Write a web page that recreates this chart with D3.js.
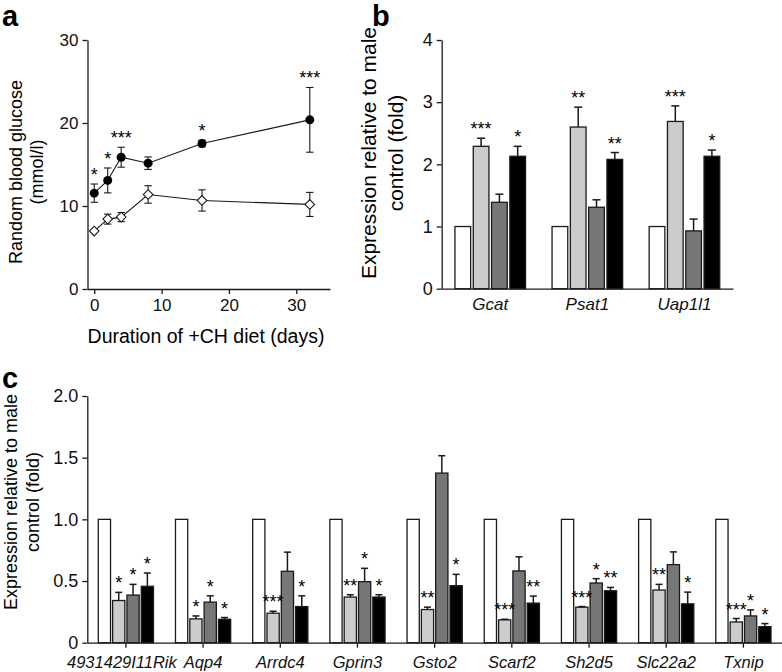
<!DOCTYPE html>
<html><head><meta charset="utf-8">
<script src="https://cdn.jsdelivr.net/npm/d3@7"></script>
<style>
body{margin:0;background:#fff;}
svg{display:block;font-family:"Liberation Sans",Arial,Helvetica,sans-serif;}
</style></head>
<body>
<script>
// ---- Panel a data ----
const days = [0, 2, 4, 8, 16, 32];
const chMean = [11.55, 13.08, 15.88, 15.16, 17.53, 20.38];
const chErr = [1.1, 1.5, 1.2, 0.75, 0.4, 3.9];
const ctrlMean = [6.98, 8.42, 8.66, 11.39, 10.67, 10.19];
const ctrlErr = [0.15, 0.6, 0.55, 1.05, 1.28, 1.45];
const aStars = ["*", "*", "***", "", "*", "***"];
const aYTicks = [0, 10, 20, 30];
const aXTicks = [0, 10, 20, 30];

// ---- Panel b data ----
const bGenes = ["Gcat", "Psat1", "Uap1l1"];
const bWhite = [1, 1, 1];
const bLight = [2.29, 2.6, 2.69];
const bLightErr = [0.13, 0.32, 0.25];
const bDark = [1.39, 1.31, 0.93];
const bDarkErr = [0.13, 0.12, 0.19];
const bBlack = [2.13, 2.08, 2.13];
const bBlackErr = [0.16, 0.11, 0.10];
const bLightStars = ["***", "**", "***"];
const bDarkStars = ["", "", ""];
const bBlackStars = ["*", "**", "*"];
const bYTicks = [0, 1, 2, 3, 4];

// ---- Panel c data ----
const cGenes = ["4931429I11Rik", "Aqp4", "Arrdc4", "Gprin3", "Gsto2", "Scarf2", "Sh2d5", "Slc22a2", "Txnip"];
const cWhite = [1, 1, 1, 1, 1, 1, 1, 1, 1];
const cLight = [0.342, 0.193, 0.239, 0.37, 0.269, 0.185, 0.288, 0.427, 0.168];
const cLightErr = [0.066, 0.024, 0.016, 0.019, 0.019, 0.005, 0.005, 0.046, 0.028];
const cDark = [0.386, 0.329, 0.579, 0.495, 1.375, 0.582, 0.484, 0.633, 0.217];
const cDarkErr = [0.087, 0.051, 0.155, 0.108, 0.141, 0.114, 0.035, 0.103, 0.049];
const cBlack = [0.457, 0.19, 0.293, 0.37, 0.462, 0.321, 0.421, 0.315, 0.13];
const cBlackErr = [0.108, 0.014, 0.087, 0.019, 0.092, 0.057, 0.027, 0.095, 0.025];
const cLightStars = ["*", "*", "***", "**", "**", "***", "***", "**", "***"];
const cDarkStars = ["*", "*", "", "*", "", "", "*", "", "*"];
const cBlackStars = ["*", "*", "*", "*", "*", "**", "**", "*", "*"];
const cYTicks = [0, 0.5, 1.0, 1.5, 2.0];
const cYTickLabels = ["0", "0.5", "1.0", "1.5", "2.0"];

const seriesKeys = ["white", "light", "dark", "black"];
const fills = {white: "#ffffff", light: "#cccccc", dark: "#777777", black: "#000000"};

const W = 782, H = 672;
const svg = d3.select("body").append("svg").attr("width", W).attr("height", H);
const INK = "#1a1a1a";
const STARFONT = "18px";

function styleAxis(g, fs) {
  g.selectAll("path.domain").attr("stroke", INK).attr("stroke-width", 1.3);
  g.selectAll(".tick line").attr("stroke", INK).attr("stroke-width", 1.3);
  g.selectAll(".tick text").attr("fill", "#111").style("font-size", fs).attr("font-family", null);
}

// ================= Panel a =================
(function(){
  const x = d3.scaleLinear().domain([-1, 35]).range([87.5, 330]);
  const y = d3.scaleLinear().domain([0, 30]).range([289, 40]);
  const g = svg.append("g");
  const ya = g.append("g").attr("transform", `translate(${x(-1)},0)`)
    .call(d3.axisLeft(y).tickValues(aYTicks).tickSize(5).tickPadding(4).tickSizeOuter(0));
  styleAxis(ya, "17px");
  const xa = g.append("g").attr("transform", `translate(0,${y(0)})`)
    .call(d3.axisBottom(x).tickValues(aXTicks).tickSize(5).tickPadding(5).tickSizeOuter(0));
  styleAxis(xa, "17px");

  const line = d3.line().x(d => x(d[0])).y(d => y(d[1]));
  const ch = days.map((d, i) => [d, chMean[i], chErr[i], aStars[i]]);
  const ct = days.map((d, i) => [d, ctrlMean[i], ctrlErr[i]]);

  [ct, ch].forEach(data => {
    g.append("path").datum(data).attr("d", line).attr("fill", "none").attr("stroke", INK).attr("stroke-width", 1.1);
    data.forEach(d => {
      const cx = x(d[0]);
      const y1 = y(d[1] + d[2]), y0 = y(d[1] - d[2]);
      g.append("line").attr("x1", cx).attr("x2", cx).attr("y1", y1).attr("y2", y0).attr("stroke", INK).attr("stroke-width", 1.1);
      [y1, y0].forEach(yy => g.append("line").attr("x1", cx - 3.7).attr("x2", cx + 3.7).attr("y1", yy).attr("y2", yy).attr("stroke", INK).attr("stroke-width", 1.1));
    });
  });
  g.selectAll("path.dia").data(ct).enter().append("path")
    .attr("d", d3.symbol().type(d3.symbolSquare).size(46))
    .attr("transform", d => `translate(${x(d[0])},${y(d[1])}) rotate(45)`)
    .attr("fill", "#fff").attr("stroke", INK).attr("stroke-width", 1.1);
  g.selectAll("circle.ch").data(ch).enter().append("circle")
    .attr("cx", d => x(d[0])).attr("cy", d => y(d[1])).attr("r", 4.5).attr("fill", "#000");
  g.selectAll("text.star").data(ch).enter().append("text")
    .attr("x", d => x(d[0])).attr("y", d => y(d[1] + d[2]) - 3)
    .attr("text-anchor", "middle").style("font-size", STARFONT).text(d => d[3]);

  g.append("text").attr("x", 206).attr("y", 343).attr("text-anchor", "middle").style("font-size", "19.5px")
    .text("Duration of +CH diet (days)");
  const t = g.append("text").attr("transform", "translate(22,172) rotate(-90)").attr("text-anchor", "middle").style("font-size", "18px");
  t.append("tspan").attr("x", 0).attr("y", 0).text("Random blood glucose");
  t.append("tspan").attr("x", 0).attr("y", 21).text("(mmol/l)");
  g.append("text").attr("x", 2).attr("y", 26).style("font-size", "29px").style("font-weight", "bold").text("a");
})();

// ================= Bar panel helper =================
function barPanel(opt) {
  const g = svg.append("g");
  const x0 = d3.scaleBand().domain(opt.genes).range(opt.xr).paddingInner(opt.pad).paddingOuter(opt.pad / 2);
  const x1 = d3.scaleBand().domain(seriesKeys).range([0, x0.bandwidth()]).paddingInner(opt.subPad).paddingOuter(0);
  const y = d3.scaleLinear().domain(opt.ydom).range(opt.yr);

  const ya = g.append("g").attr("transform", `translate(${opt.xr[0]},0)`)
    .call(d3.axisLeft(y).tickValues(opt.yticks).tickFormat((d, i) => opt.ylabels ? opt.ylabels[i] : d).tickSize(5).tickPadding(4).tickSizeOuter(0));
  styleAxis(ya, opt.tickfont);
  const xa = g.append("g").attr("transform", `translate(0,${opt.yr[0]})`)
    .call(d3.axisBottom(x0).tickSize(opt.xtick).tickPadding(opt.xpad).tickSizeOuter(0));
  styleAxis(xa, opt.genefont);
  xa.selectAll(".tick text").style("font-style", "italic")
    .attr("dx", (d, i) => opt.labelShift ? opt.labelShift[i] : 0);

  const rows = [];
  opt.genes.forEach((gene, i) => {
    seriesKeys.forEach(k => {
      const s = opt.series[k];
      rows.push({gene, k, v: s.v[i], e: s.e ? s.e[i] : 0, star: s.stars ? s.stars[i] : ""});
    });
  });
  const bx = d => x0(d.gene) + x1(d.k);
  g.selectAll("rect.bar").data(rows).enter().append("rect")
    .attr("x", bx).attr("y", d => y(d.v)).attr("width", x1.bandwidth()).attr("height", d => y(0) - y(d.v))
    .attr("fill", d => fills[d.k]).attr("stroke", INK).attr("stroke-width", 1.3);
  const cw = opt.cap;
  rows.filter(d => d.e > 0).forEach(d => {
    const cx = bx(d) + x1.bandwidth() / 2;
    g.append("line").attr("x1", cx).attr("x2", cx).attr("y1", y(d.v)).attr("y2", y(d.v + d.e)).attr("stroke", INK).attr("stroke-width", 1.5);
    g.append("line").attr("x1", cx - cw / 2).attr("x2", cx + cw / 2).attr("y1", y(d.v + d.e)).attr("y2", y(d.v + d.e)).attr("stroke", INK).attr("stroke-width", 1.5);
  });
  g.selectAll("text.star").data(rows.filter(d => d.star)).enter().append("text")
    .attr("x", d => bx(d) + x1.bandwidth() / 2).attr("y", d => y(d.v + d.e) - 3)
    .attr("text-anchor", "middle").style("font-size", STARFONT).text(d => d.star);

  const t = g.append("text").attr("transform", `translate(${opt.ylab[0]},${opt.ylab[1]}) rotate(-90)`).attr("text-anchor", "middle").style("font-size", opt.titlefont);
  t.append("tspan").attr("x", 0).attr("y", 0).text("Expression relative to male");
  t.append("tspan").attr("x", 0).attr("y", opt.lh).text("control (fold)");
  g.append("text").attr("x", opt.letter[0]).attr("y", opt.letter[1]).style("font-size", "29px").style("font-weight", "bold").text(opt.letterText);
}

barPanel({
  genes: bGenes, xr: [441.7, 733], pad: 0.273, subPad: 0.142,
  ydom: [0, 4], yr: [288.7, 40], yticks: bYTicks, xtick: 0, xpad: 9, cap: 8,
  tickfont: "18px", genefont: "17px", titlefont: "21px", ylab: [376, 153], lh: 27,
  letter: [372, 26], letterText: "b",
  series: {
    white: {v: bWhite},
    light: {v: bLight, e: bLightErr, stars: bLightStars},
    dark: {v: bDark, e: bDarkErr, stars: bDarkStars},
    black: {v: bBlack, e: bBlackErr, stars: bBlackStars}
  }
});

barPanel({
  genes: cGenes, xr: [87.3, 782], pad: 0.285, subPad: 0.146,
  ydom: [0, 2], yr: [642.7, 396], yticks: cYTicks, ylabels: cYTickLabels, xtick: 5, xpad: 8.5, cap: 7,
  tickfont: "18px", genefont: "16.5px", titlefont: "18px", ylab: [17, 502], lh: 22,
  labelShift: [-4, 0, 0, 0, 0, 0, 0, 0, 0],
  letter: [2, 388], letterText: "c",
  series: {
    white: {v: cWhite},
    light: {v: cLight, e: cLightErr, stars: cLightStars},
    dark: {v: cDark, e: cDarkErr, stars: cDarkStars},
    black: {v: cBlack, e: cBlackErr, stars: cBlackStars}
  }
});
</script>
</body></html>
